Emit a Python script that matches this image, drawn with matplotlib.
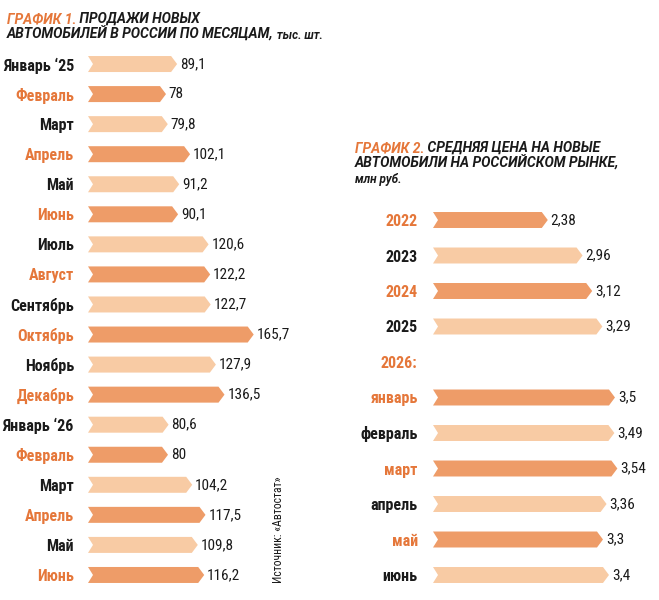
import matplotlib
matplotlib.use("Agg")
import matplotlib.pyplot as plt
from matplotlib.patches import Polygon

# --- data ---
sales_months = ["Январь ‘25", "Февраль", "Март", "Апрель", "Май", "Июнь",
                "Июль", "Август", "Сентябрь", "Октябрь", "Ноябрь", "Декабрь",
                "Январь ‘26", "Февраль", "Март", "Апрель", "Май", "Июнь"]
sales_values = [89.1, 78, 79.8, 102.1, 91.2, 90.1, 120.6, 122.2, 122.7,
                165.7, 127.9, 136.5, 80.6, 80, 104.2, 117.5, 109.8, 116.2]
sales_dark = [i % 2 == 1 for i in range(len(sales_months))]

price_labels = ["2022", "2023", "2024", "2025", "2026:", "январь", "февраль",
                "март", "апрель", "май", "июнь"]
price_values = [2.38, 2.96, 3.12, 3.29, None, 3.5, 3.49, 3.54, 3.36, 3.3, 3.4]
price_dark = [True, False, True, False, True, True, False, True, False, True, False]

DARK = "#EE9C68"
LIGHT = "#F8CBA4"
ORANGE = "#E5773A"
BLACK = "#1a1a1a"
NARROW = ["Roboto Condensed", "DejaVu Sans"]
TITLE = ["Roboto", "DejaVu Sans"]

W, H = 659, 600
fig = plt.figure(figsize=(W / 100, H / 100), dpi=100)


def px_axes(left, top, right, bottom):
    return fig.add_axes([left / W, 1 - bottom / H, (right - left) / W, (bottom - top) / H])


def fmt(v):
    return f"{v:g}".replace(".", ",")


def draw_bars(ax, labels, values, dark, x0, half_h, pad):
    n = len(labels)
    ax.set_ylim(n - 0.5, -0.5)
    ppu = ax.transData.transform((1, 0))[0] - ax.transData.transform((0, 0))[0]
    tip = 6 / ppu
    notch = 5 / ppu
    for i, (v, d) in enumerate(zip(values, dark)):
        if v is None:
            continue
        pts = [(x0, i - half_h), (v - tip, i - half_h), (v, i),
               (v - tip, i + half_h), (x0, i + half_h), (x0 + notch, i)]
        ax.add_patch(Polygon(pts, closed=True, facecolor=DARK if d else LIGHT,
                             edgecolor="none"))
        ax.annotate(fmt(v), xy=(v, i), xytext=(2, 0), textcoords="offset points",
                    ha="left", va="center", fontsize=11, family=NARROW, color=BLACK)
    ax.set_yticks(range(n))
    ax.set_yticklabels(labels, family=NARROW, fontweight="bold", fontsize=11.5)
    for lab, d in zip(ax.get_yticklabels(), dark):
        lab.set_color(ORANGE if d else BLACK)
    ax.tick_params(axis="y", length=0, pad=pad)
    ax.set_xticks([])
    for s in ax.spines.values():
        s.set_visible(False)
    ax.patch.set_alpha(0)


# chart 1
ax1 = px_axes(88, 49, 338, 590)
ax1.set_xlim(0, 250)
draw_bars(ax1, sales_months, sales_values, sales_dark, 0, 0.266, 10)

# chart 2
ax2 = px_axes(433, 202.25, 659, 592.75)
ax2.set_xlim(0.467, 0.467 + 226 / 60)
draw_bars(ax2, price_labels, price_values, price_dark, 0.467, 0.225, 11)


def chain_text(x, y, parts):
    renderer = fig.canvas.get_renderer()
    cur = x
    for text, color, size in parts:
        t = fig.text(cur / W, 1 - y / H, text, color=color, fontsize=size, family=TITLE,
                     fontweight="bold", fontstyle="italic", va="baseline", ha="left")
        cur += t.get_window_extent(renderer).width


chain_text(7, 23, [("ГРАФИК 1.", ORANGE, 10), (" ПРОДАЖИ НОВЫХ", BLACK, 10)])
chain_text(7, 39, [("АВТОМОБИЛЕЙ В РОССИИ ПО МЕСЯЦАМ,", BLACK, 10), (" тыс. шт.", BLACK, 8.5)])

chain_text(355, 152, [("ГРАФИК 2.", ORANGE, 10), (" СРЕДНЯЯ ЦЕНА НА НОВЫЕ", BLACK, 10)])
chain_text(355, 168, [("АВТОМОБИЛИ НА РОССИЙСКОМ РЫНКЕ,", BLACK, 10)])
chain_text(355, 183, [("млн руб.", BLACK, 8.5)])

fig.text(278 / W, 1 - 583 / H, "Источник: «Автостат»", rotation=90, ha="center",
         va="bottom", fontsize=8.5, family=NARROW, color=BLACK)

fig.savefig("out.png", dpi=100)
